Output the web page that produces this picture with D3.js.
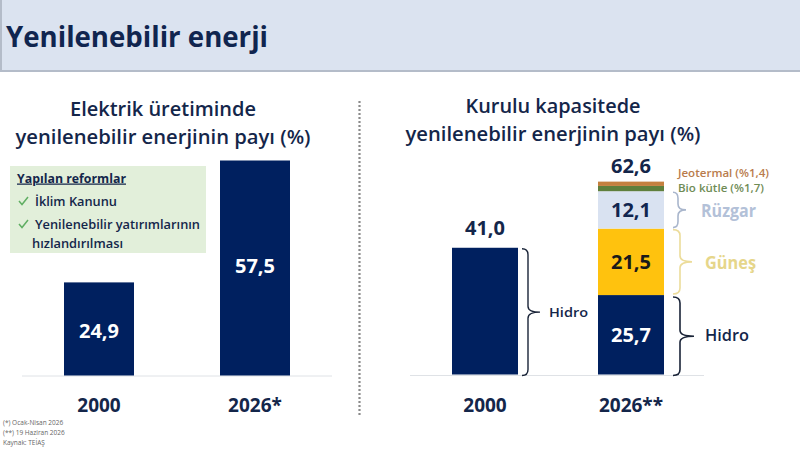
<!DOCTYPE html>
<html lang="tr"><head><meta charset="utf-8">
<script src="https://cdn.jsdelivr.net/npm/d3@7/dist/d3.min.js"></script>
<style>
html,body{margin:0;padding:0;background:#fff;overflow:hidden}
svg{display:block}
text{font-family:"Open Sans","Noto Sans",sans-serif}
</style></head><body>
<svg id="c" width="800" height="450" viewBox="0 0 800 450"></svg>
<script>
const headerTitle = "Yenilenebilir enerji";
const leftTitle = ["Elektrik üretiminde", "yenilenebilir enerjinin payı (%)"];
const rightTitle = ["Kurulu kapasitede", "yenilenebilir enerjinin payı (%)"];
const leftCategories = ["2000", "2026*"];
const leftValues = [24.9, 57.5];
const rightCategories = ["2000", "2026**"];
const rightTotals = [41.0, 62.6];
const stackNames = ["Hidro", "Güneş", "Rüzgar", "Bio kütle", "Jeotermal"];
const stackValues = [25.7, 21.5, 12.1, 1.7, 1.4];
const stackColors = ["#00205f", "#ffc20e", "#d9e2f1", "#5f7f3c", "#c5803f"];
const stackLabelColors = ["#fff", "#1a1a1a", "#10254f"];
const reformHeading = "Yapılan reformlar";
const reformLines = ["İklim Kanunu", "Yenilenebilir yatırımlarının", "hızlandırılması"];
const footnotes = ["(*) Ocak-Nisan 2026", "(**) 19 Haziran 2026", "Kaynak: TEİAŞ"];
const fmt = v => v.toFixed(1).replace(".", ",");

const svg = d3.select("#c");
const navy = "#00205f", ink = "#14264a";

// header
svg.append("rect").attr("width",800).attr("height",71).attr("fill","#dbe3f0");
svg.append("rect").attr("y",70).attr("width",800).attr("height",2).attr("fill","#b4bcc9");
svg.append("rect").attr("width",2).attr("height",71).attr("fill","#b4bcc9");
svg.append("text").attr("x",6).attr("y",46.5).attr("font-size",28).attr("font-weight",700)
  .attr("fill","#10254f").attr("textLength",262).attr("lengthAdjust","spacingAndGlyphs").text(headerTitle);

// divider
svg.append("line").attr("x1",359.5).attr("x2",359.5).attr("y1",101).attr("y2",416)
  .attr("stroke","#8a8a8a").attr("stroke-width",2.2).attr("stroke-dasharray","2 2");

function titles(lines, cx, ys, widths){
  lines.forEach((t,i)=>svg.append("text").attr("x",cx).attr("y",ys[i]).attr("text-anchor","middle")
    .attr("font-size",19).attr("font-weight",600).attr("fill",ink)
    .attr("textLength",widths[i]).attr("lengthAdjust","spacingAndGlyphs").text(t));
}
titles(leftTitle,163,[115.5,143.5],[186,295]);
titles(rightTitle,553,[112.5,141],[175,295]);

// reform box
svg.append("rect").attr("x",10).attr("y",166).attr("width",196).attr("height",87).attr("fill","#e2efda");
svg.append("text").attr("x",17).attr("y",182.5).attr("font-size",12.5).attr("font-weight",700)
  .attr("fill",ink).attr("text-decoration","underline").attr("textLength",109)
  .attr("lengthAdjust","spacingAndGlyphs").text(reformHeading);
[[35,206,82,true],[35,229,165,true],[32,248,91,false]].forEach((p,i)=>{
  svg.append("text").attr("x",p[0]).attr("y",p[1]).attr("font-size",12.5).attr("font-weight",600)
    .attr("fill",ink).attr("textLength",p[2]).attr("lengthAdjust","spacingAndGlyphs").text(reformLines[i]);
  if(p[3]) svg.append("path").attr("d",`M19 ${p[1]-5}l3 3.5l6-7.5`).attr("fill","none")
    .attr("stroke","#5fae62").attr("stroke-width",1.5);
});

// left chart
const xL = d3.scaleBand().domain(leftCategories).range([64,290]).paddingInner(86/156);
const yL = d3.scaleLinear().domain([0,57.5]).range([375.5,160.5]);
svg.append("line").attr("x1",22).attr("x2",332).attr("y1",376).attr("y2",376).attr("stroke","#dfe2e6");
svg.selectAll(".lb").data(leftValues).join("rect").attr("class","lb")
  .attr("x",(d,i)=>xL(leftCategories[i])).attr("width",xL.bandwidth())
  .attr("y",d=>yL(d)).attr("height",d=>yL(0)-yL(d)).attr("fill",navy);
svg.selectAll(".lv").data(leftValues).join("text").attr("class","lv")
  .attr("x",(d,i)=>xL(leftCategories[i])+xL.bandwidth()/2)
  .attr("y",(d,i)=>i==0?338:273).attr("text-anchor","middle")
  .attr("font-size",20).attr("font-weight",700).attr("fill","#fff").text(fmt);
svg.selectAll(".lc").data(leftCategories).join("text").attr("class","lc")
  .attr("x",d=>xL(d)+xL.bandwidth()/2).attr("y",412).attr("text-anchor","middle")
  .attr("font-size",19).attr("font-weight",700).attr("fill",ink).text(d=>d);

// right chart
const xR = d3.scaleBand().domain(rightCategories).range([452,664]).paddingInner(80/146);
const yR = d3.scaleLinear().domain([0,62.6]).range([374.5,181]);
const [c0,c1] = rightCategories;
svg.append("line").attr("x1",410).attr("x2",704).attr("y1",375.5).attr("y2",375.5).attr("stroke","#dfe2e6");
svg.append("rect").attr("x",xR(c0)).attr("width",xR.bandwidth())
  .attr("y",yR(rightTotals[0])).attr("height",yR(0)-yR(rightTotals[0])).attr("fill",navy);
const stacked = d3.stack().keys(stackNames)([Object.fromEntries(stackNames.map((n,i)=>[n,stackValues[i]]))]);
svg.selectAll(".seg").data(stacked).join("rect").attr("class","seg")
  .attr("x",xR(c1)).attr("width",xR.bandwidth())
  .attr("y",d=>yR(d[0][1])).attr("height",d=>yR(d[0][0])-yR(d[0][1]))
  .attr("fill",(d,i)=>stackColors[i]);
const cx0 = xR(c0)+xR.bandwidth()/2, cx1 = xR(c1)+xR.bandwidth()/2;
[[cx0,235,fmt(rightTotals[0]),ink],[cx1,173,fmt(rightTotals[1]),ink]].forEach(p=>
  svg.append("text").attr("x",p[0]).attr("y",p[1]).attr("text-anchor","middle")
    .attr("font-size",20).attr("font-weight",700).attr("fill",p[3]).text(p[2]));
stacked.slice(0,3).forEach((s,i)=>svg.append("text").attr("x",cx1)
  .attr("y",(yR(s[0][0])+yR(s[0][1]))/2+7).attr("text-anchor","middle")
  .attr("font-size",20).attr("font-weight",700).attr("fill",stackLabelColors[i]).text(fmt(stackValues[i])));
svg.selectAll(".rc").data(rightCategories).join("text").attr("class","rc")
  .attr("x",d=>xR(d)+xR.bandwidth()/2).attr("y",412).attr("text-anchor","middle")
  .attr("font-size",19).attr("font-weight",700).attr("fill",ink).text(d=>d);

// braces
function brace(x0,spine,tail,y0,y1,color,w){
  const m=(y0+y1)/2, r=Math.min(6,(y1-y0)/5);
  svg.append("path").attr("fill","none").attr("stroke",color).attr("stroke-width",w||1.4)
    .attr("d",`M${x0} ${y0}Q${spine} ${y0} ${spine} ${y0+r}L${spine} ${m-r}Q${spine} ${m} ${tail} ${m}`+
      `Q${spine} ${m} ${spine} ${m+r}L${spine} ${y1-r}Q${spine} ${y1} ${x0} ${y1}`);
}
const segY = i=>[yR(stacked[i][0][1]),yR(stacked[i][0][0])];
brace(522,528,540,yR(rightTotals[0])+1,yR(0)+1,"#1a2438");
brace(673,680,694,segY(0)[0]+2,yR(0)+1,"#1a2438",1.6);
brace(673,680,692,segY(1)[0]+1,segY(1)[1]-1,"#ecdc9a",1.6);
brace(673,678,686,segY(2)[0]+1,segY(2)[1]-1,"#a9b6cc",1.6);

const side=(t,x,y,size,col,anchor,len,wt)=>svg.append("text").attr("x",x).attr("y",y)
  .attr("text-anchor",anchor||"middle").attr("font-size",size).attr("font-weight",wt||700).attr("fill",col)
  .attr("textLength",len).attr("lengthAdjust","spacingAndGlyphs").text(t);
side(stackNames[0],549,317,13,"#14264a","start",39,600);
side(stackNames[0],705,341,17,"#14264a","start",44,600);
side(stackNames[1],705,269,17,"#e6d68a","start",51);
side(stackNames[2],701,217,17,"#b3c1d8","start",55);
side(`${stackNames[4]} (%${fmt(stackValues[4])})`,678,177,11,"#b97c4c","start",91,600);
side(`${stackNames[3]} (%${fmt(stackValues[3])})`,678,192,11,"#6f8c56","start",86,600);

// footnotes
footnotes.forEach((t,i)=>svg.append("text").attr("x",3).attr("y",425+i*10).attr("font-size",6.5)
  .attr("fill","#666").text(t));
</script></body></html>
